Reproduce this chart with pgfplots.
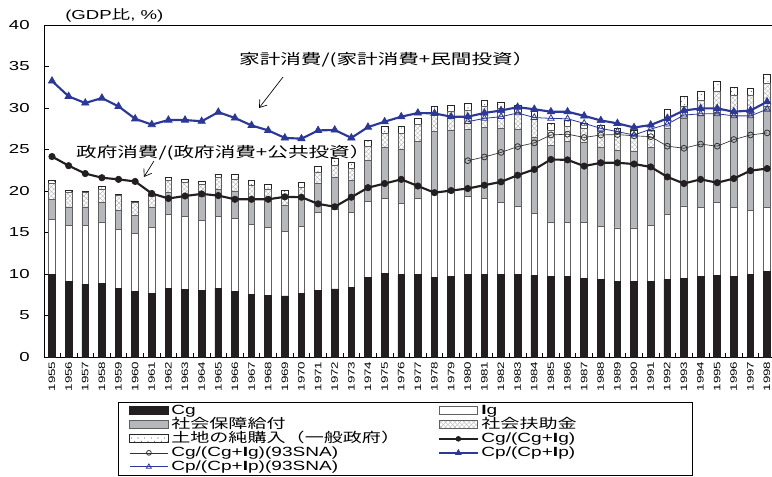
\documentclass[border=0pt]{standalone}
\usepackage{pgfplots}
\pgfplotsset{compat=1.18}
\usepackage{pgfplotstable}
\usepackage{fontspec}
\setmainfont{Liberation Sans}[FakeStretch=1.43]
\newfontfamily\jp{Noto Sans CJK JP}[FakeStretch=1.43]
\usetikzlibrary{patterns,arrows.meta}

% diagonal cross hatch and sparse dots for the two thin segments
\pgfdeclarepatternformonly{xhatch}{\pgfpoint{-0.5pt}{-0.5pt}}{\pgfpoint{4pt}{4pt}}{\pgfpoint{3.5pt}{3.5pt}}{%
  \pgfsetlinewidth{0.3pt}%
  \pgfpathmoveto{\pgfpoint{0pt}{0pt}}\pgfpathlineto{\pgfpoint{3.5pt}{3.5pt}}%
  \pgfpathmoveto{\pgfpoint{0pt}{3.5pt}}\pgfpathlineto{\pgfpoint{3.5pt}{0pt}}%
  \pgfusepath{stroke}}
\pgfdeclarepatternformonly{sparsedots}{\pgfpoint{-1pt}{-1pt}}{\pgfpoint{6pt}{6pt}}{\pgfpoint{5pt}{5pt}}{%
  \pgfpathcircle{\pgfpoint{1pt}{1pt}}{0.4pt}%
  \pgfpathcircle{\pgfpoint{3.5pt}{3.5pt}}{0.4pt}%
  \pgfusepath{fill}}

\definecolor{cgblack}{RGB}{35,31,32}
\definecolor{ssgray}{RGB}{183,184,188}
\definecolor{cpblue}{RGB}{44,56,150}
\definecolor{edge}{RGB}{95,95,95}

\pgfplotsset{
  frame/.style={
    width=552.75pt, height=249pt, scale only axis,
    xmin=1954.579, xmax=1998.896, ymin=0, ymax=40,
  },
  boxleg/.style={legend image code/.code={\draw[##1,line width=0.6pt] (0pt,-3pt) rectangle (29pt,3pt);}},
  lineleg/.style={legend image code/.code={\draw[##1,sharp plot,mark repeat=2,mark phase=2] plot coordinates {(0pt,0pt) (14.5pt,0pt) (29pt,0pt)};}},
  cgline/.style={color=cgblack, line width=1.6pt, mark=*, mark size=2.4pt, mark options={fill=cgblack, line width=0.5pt}},
  cgnew/.style={color=black!80, line width=0.5pt, mark=o, mark size=2.2pt, mark options={fill=white, line width=0.6pt}},
  cpline/.style={color=cpblue, line width=1.6pt, mark=triangle*, mark size=3.2pt, mark options={fill=cpblue, line width=0.5pt}},
  cpnew/.style={color=cpblue, line width=0.6pt, mark=triangle, mark size=2.8pt, mark options={fill=white, line width=0.6pt}},
}

\newcommand{\lcA}[1]{\makebox[198pt][l]{#1}}
\newcommand{\lcB}[1]{\makebox[148pt][l]{#1}}

% government budget components, share of GDP (segment heights)
\pgfplotstableread{
year cg ig ss sa land
1955 10.00 6.60 2.40 1.90 0.35
1956 9.10 6.70 2.20 1.85 0.25
1957 8.75 7.10 2.15 1.80 0.20
1958 8.90 7.30 2.40 1.65 0.25
1959 8.30 7.10 2.30 1.75 0.20
1960 7.95 6.95 2.15 1.60 0.15
1961 7.70 7.90 2.40 1.30 0.30
1962 8.30 8.85 2.65 1.45 0.40
1963 8.15 8.75 2.60 1.50 0.45
1964 8.00 8.40 2.90 1.50 0.30
1965 8.30 8.60 3.30 1.45 0.40
1966 7.90 8.80 3.20 1.50 0.55
1967 7.55 8.45 2.90 1.80 0.55
1968 7.45 8.15 3.30 1.35 0.55
1969 7.35 7.80 3.15 1.20 0.55
1970 7.65 8.05 3.55 1.15 0.60
1971 8.05 9.35 3.50 1.40 0.70
1972 8.20 9.60 3.85 1.45 0.80
1973 8.40 9.00 3.85 1.45 0.70
1974 9.55 9.15 4.95 1.70 0.70
1975 10.10 9.00 6.10 1.80 0.75
1976 9.90 8.55 6.60 1.95 0.75
1977 9.90 9.20 6.90 2.00 0.75
1978 9.60 10.20 7.35 2.25 0.80
1979 9.75 10.05 7.50 2.25 0.75
1980 9.90 9.40 8.10 2.35 0.75
1981 10.00 9.10 8.55 2.50 0.75
1982 9.90 8.70 8.90 2.45 0.75
1983 9.90 8.25 9.25 2.10 0.85
1984 9.80 7.50 9.10 2.45 0.70
1985 9.70 6.55 9.20 1.90 0.80
1986 9.70 6.55 9.70 1.80 0.80
1987 9.45 6.80 9.65 1.60 0.70
1988 9.30 6.40 9.55 1.90 0.70
1989 9.15 6.40 9.40 2.00 0.60
1990 9.15 6.40 9.20 1.95 0.60
1991 9.15 6.65 9.45 1.20 0.85
1992 9.35 7.85 10.40 1.00 1.20
1993 9.45 8.75 10.60 1.45 1.20
1994 9.70 8.35 11.05 1.80 1.15
1995 9.80 8.80 10.85 2.50 1.25
1996 9.70 8.30 11.15 2.40 0.95
1997 9.90 7.80 11.60 2.25 0.80
1998 10.30 7.75 12.15 2.80 1.05
}\budget

% consumption ratios (68SNA)
\pgfplotstableread{
year cgr cpr
1955 24.15 33.25
1956 23.05 31.40
1957 22.10 30.60
1958 21.60 31.20
1959 21.40 30.20
1960 21.15 28.70
1961 19.70 28.00
1962 19.10 28.55
1963 19.40 28.55
1964 19.65 28.40
1965 19.45 29.50
1966 19.00 28.80
1967 19.00 27.90
1968 19.00 27.30
1969 19.30 26.40
1970 19.25 26.30
1971 18.45 27.30
1972 18.10 27.35
1973 19.25 26.40
1974 20.40 27.70
1975 20.90 28.35
1976 21.40 28.95
1977 20.60 29.40
1978 19.80 29.35
1979 20.05 28.95
1980 20.30 28.95
1981 20.70 29.40
1982 21.10 29.70
1983 21.90 30.10
1984 22.60 29.85
1985 23.80 29.55
1986 23.75 29.55
1987 23.00 29.05
1988 23.40 28.50
1989 23.40 28.15
1990 23.25 27.65
1991 22.90 27.95
1992 21.70 28.75
1993 20.90 29.70
1994 21.40 29.95
1995 21.00 29.95
1996 21.50 29.55
1997 22.45 29.70
1998 22.70 30.75
}\ratios

% consumption ratios (93SNA)
\pgfplotstableread{
year cgr cpr
1980 23.65 28.35
1981 24.10 28.75
1982 24.65 28.95
1983 25.35 29.40
1984 25.80 28.85
1985 26.75 28.75
1986 26.85 28.70
1987 26.45 28.15
1988 26.75 27.55
1989 26.80 27.15
1990 26.65 26.75
1991 26.55 27.45
1992 25.40 28.05
1993 25.15 29.15
1994 25.65 29.30
1995 25.40 29.30
1996 26.20 29.05
1997 26.75 29.05
1998 27.00 29.85
}\ratiosnew

\begin{document}
\begin{tikzpicture}
\useasboundingbox (-33.75pt,-89.25pt) rectangle (545.25pt,267.75pt);
\clip (-33.75pt,-89.25pt) rectangle (545.25pt,267.75pt);
\begin{axis}[
  frame,
  ybar stacked, bar width=5pt,
  axis line style={line width=0.75pt},
  tick pos=left, tick align=inside,
  xtick={1955,...,1998},
  minor xtick={1954.5,1955.5,...,1998.5},
  major x tick style={draw=none},
  minor tick length=3pt, major tick length=3pt,
  every tick/.style={black, line width=0.6pt},
  ytick={0,5,...,40},
  /pgf/number format/assume math mode=true,
  xticklabel style={rotate=90, anchor=east, font=\fontsize{7}{7}\selectfont,
    /pgf/number format/1000 sep={}},
  yticklabel style={font=\fontsize{9.75}{10}\selectfont, xshift=-8pt},
  legend columns=2,
  legend cell align=left,
  legend style={at={(0,0)}, anchor=north west, xshift=54.75pt, yshift=-33.75pt,
    draw=black, line width=0.75pt, inner xsep=8pt, inner ysep=1pt,
    font=\fontsize{10}{10}\selectfont, row sep=0pt,
    nodes={text height=7.4pt, text depth=2.4pt, inner ysep=0.35pt}},
]
\addplot[fill=cgblack, draw=cgblack, line width=0.6pt, boxleg] table[x=year,y=cg]{\budget};
\addlegendentry{\lcA{Cg}}
\addplot[fill=white, draw=edge, line width=0.6pt, boxleg] table[x=year,y=ig]{\budget};
\addlegendentry{\lcB{{\bfseries I}g}}
\addplot[fill=ssgray, draw=edge, line width=0.6pt, boxleg] table[x=year,y=ss]{\budget};
\addlegendentry{\lcA{\jp 社会保障給付}}
\addplot[pattern=xhatch, pattern color=gray!55, draw=edge, line width=0.6pt, boxleg] table[x=year,y=sa]{\budget};
\addlegendentry{\lcB{\jp 社会扶助金}}
\addplot[pattern=sparsedots, pattern color=black!70, draw=black!85, line width=0.6pt, boxleg] table[x=year,y=land]{\budget};
\addlegendentry{\lcA{\jp 土地の純購入（一般政府）}}
\addlegendimage{lineleg, cgline, mark size=1.8pt}
\addlegendentry{\lcB{Cg/(Cg+{\bfseries I}g)}}
\addlegendimage{lineleg, cgnew, mark size=1.8pt}
\addlegendentry{\lcA{Cg/(Cg+{\bfseries I}g)(93SNA)}}
\addlegendimage{lineleg, cpline, mark size=2.4pt}
\addlegendentry{\lcB{Cp/(Cp+{\bfseries I}p)}}
\addlegendimage{lineleg, cpnew, mark size=2.2pt}
\addlegendentry{\lcA{Cp/(Cp+{\bfseries I}p)(93SNA)}}
\end{axis}

\begin{axis}[frame, hide axis, clip=false]
\addplot[cgline] table[x=year,y=cgr]{\ratios};
\addplot[cgnew] table[x=year,y=cgr]{\ratiosnew};
\addplot[cpnew] table[x=year,y=cpr]{\ratiosnew};
\addplot[cpline] table[x=year,y=cpr]{\ratios};

\node[anchor=west, inner sep=0pt, font=\fontsize{9.75}{10}\selectfont]
  at (rel axis cs:0,1) [xshift=15pt, yshift=7.5pt] {(GDP{\jp 比}, \%)};

\node[anchor=west, inner sep=0pt, font=\jp\fontsize{10.8}{11}\selectfont]
  at (axis cs:1966.24,35.8) {家計消費/(家計消費+民間投資）};
\draw[-{Straight Barb[length=5pt,width=7pt]}, line width=0.5pt]
  (axis cs:1968.89,33.73) -- (axis cs:1967.45,30.0);

\node[anchor=west, inner sep=0pt, font=\jp\fontsize{10.8}{11}\selectfont]
  at (axis cs:1956.44,24.64) {政府消費/(政府消費+公共投資）};
\draw[-{Straight Barb[length=5pt,width=7pt]}, line width=0.5pt]
  (axis cs:1961.13,23.61) -- (axis cs:1960.53,21.69);
\end{axis}
\end{tikzpicture}
\end{document}
